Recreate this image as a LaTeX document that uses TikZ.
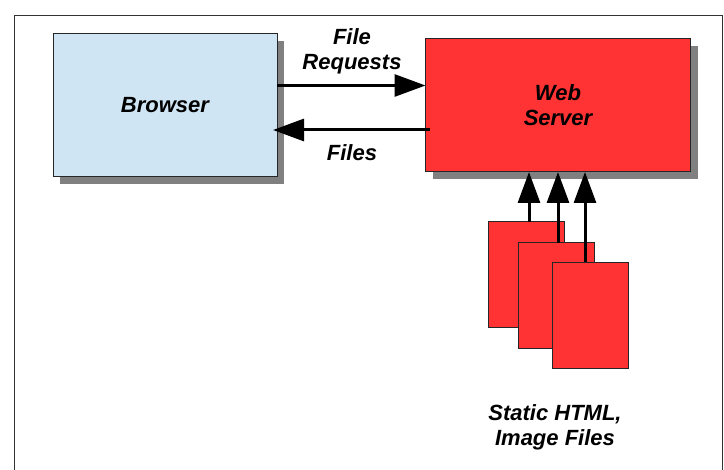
\documentclass[tikz,border=0pt]{standalone}
\usepackage{fontspec}
\setmainfont{Liberation Sans}
\usetikzlibrary{arrows.meta,shadows}
\definecolor{browser-blue}{HTML}{CFE5F3}
\definecolor{server-red}{HTML}{FF3333}
\definecolor{shadow-gray}{HTML}{808080}

\begin{document}
\begin{tikzpicture}[x=1pt, y=-1pt,
    font=\fontsize{22}{25}\selectfont\bfseries\itshape,
    box/.style={draw=black!85, line width=1pt, inner sep=0pt, outer sep=0pt, align=center},
    shadowed/.style={drop shadow={shadow xshift=7pt, shadow yshift=-7pt, fill=shadow-gray, opacity=1}},
    doc/.style={box, fill=server-red, minimum width=76pt, minimum height=106pt},
    bigarrow/.style={line width=3pt, -{Triangle[length=31pt, width=22pt]}},
    caption/.style={align=center}]
  \useasboundingbox (0,0) rectangle (724,470);
  \draw[black!80, line width=1pt] (14,470) -- (14,16) -- (722,16) -- (722,470);

  \node[box, shadowed, fill=browser-blue, minimum width=224pt, minimum height=143pt] (browser) at (165,105.5) {Browser};
  \node[box, shadowed, fill=server-red, minimum width=265pt, minimum height=133pt] (server) at (558,105.5) {Web\\Server};

  \node[doc] (doc1) at (526,275) {};
  \node[doc] (doc2) at (556.5,296) {};
  \node[doc] (doc3) at (590,315.5) {};

  \node[caption] (req) at (352,51) {File\\Requests};
  \node[caption] (files) at (352,153) {Files};
  \node[caption] (static) at (555,427) {Static HTML,\\Image Files};

  \draw[bigarrow] ([yshift=20pt]browser.east) -- ([yshift=20pt]server.west);
  \draw[bigarrow] ([yshift=-24.5pt,xshift=4pt]server.west) -- ([yshift=-24.5pt,xshift=-4pt]browser.east);

  \draw[bigarrow] ([xshift=3pt]doc1.north) -- ([xshift=3pt]doc1.north |- server.south);
  \draw[bigarrow] ([xshift=1.5pt]doc2.north) -- ([xshift=1.5pt]doc2.north |- server.south);
  \draw[bigarrow] ([xshift=-5pt]doc3.north) -- ([xshift=-5pt]doc3.north |- server.south);
\end{tikzpicture}
\end{document}
